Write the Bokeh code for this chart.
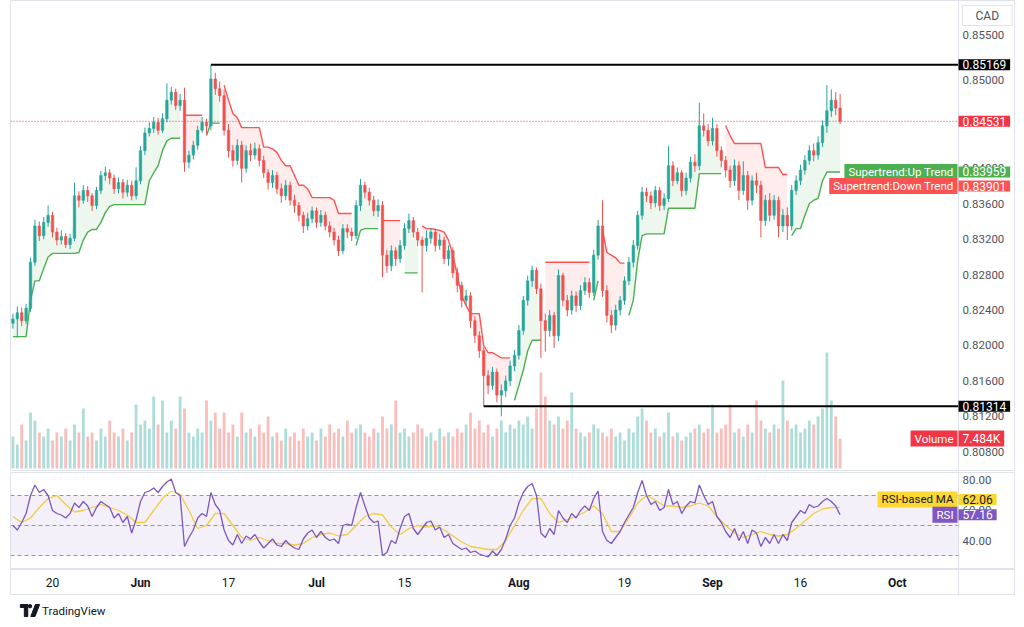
import numpy as np
from bokeh.plotting import figure
from bokeh.layouts import column
from bokeh.models import (Range1d, Span, BoxAnnotation, Label, ColumnDataSource)
from bokeh.core.properties import value
from bokeh.embed import file_html
from bokeh.resources import INLINE

# ---------------- data (USD/CAD, half-day bars) ----------------
first_open = 0.8225
closes = [
    0.8230, 0.8237, 0.8228, 0.8242, 0.8294, 0.8335, 0.8324, 0.8339, 0.8347, 0.8328,
    0.8319, 0.8323, 0.8314, 0.8321, 0.8369, 0.8364, 0.8375, 0.8369, 0.8358, 0.8375,
    0.8392, 0.8395, 0.8389, 0.8377, 0.8384, 0.8373, 0.8381, 0.8369, 0.8386, 0.8420,
    0.8440, 0.8445, 0.8452, 0.8443, 0.8456, 0.8477, 0.8486, 0.8471, 0.8477, 0.8407,
    0.8415, 0.8426, 0.8443, 0.8452, 0.8448, 0.8501, 0.8490, 0.8482, 0.8443, 0.8420,
    0.8409, 0.8426, 0.8400, 0.8420, 0.8415, 0.8422, 0.8409, 0.8395, 0.8384, 0.8392,
    0.8377, 0.8369, 0.8381, 0.8364, 0.8358, 0.8347, 0.8335, 0.8343, 0.8352, 0.8339,
    0.8347, 0.8335, 0.8328, 0.8319, 0.8307, 0.8332, 0.8328, 0.8324, 0.8358, 0.8381,
    0.8373, 0.8364, 0.8352, 0.8358, 0.8302, 0.8290, 0.8307, 0.8298, 0.8313, 0.8332,
    0.8341, 0.8328, 0.8319, 0.8313, 0.8321, 0.8328, 0.8313, 0.8319, 0.8298, 0.8307,
    0.8282, 0.8268, 0.8251, 0.8256, 0.8228, 0.8211, 0.8194, 0.8166, 0.8155, 0.8170,
    0.8144, 0.8149, 0.8160, 0.8177, 0.8189, 0.8217, 0.8251, 0.8273, 0.8285, 0.8264,
    0.8228, 0.8217, 0.8234, 0.8211, 0.8279, 0.8251, 0.8240, 0.8256, 0.8245, 0.8262,
    0.8271, 0.8260, 0.8302, 0.8335, 0.8262, 0.8234, 0.8223, 0.8240, 0.8251, 0.8273,
    0.8294, 0.8313, 0.8347, 0.8373, 0.8369, 0.8361, 0.8375, 0.8358, 0.8366, 0.8403,
    0.8386, 0.8395, 0.8375, 0.8389, 0.8407, 0.8403, 0.8448, 0.8443, 0.8431, 0.8445,
    0.8420, 0.8409, 0.8398, 0.8386, 0.8403, 0.8375, 0.8392, 0.8364, 0.8386, 0.8381,
    0.8341, 0.8364, 0.8347, 0.8364, 0.8335, 0.8347, 0.8335, 0.8375, 0.8386, 0.8398,
    0.8409, 0.8420, 0.8415, 0.8429, 0.8448, 0.8465, 0.8477, 0.8468, 0.84531,
]
highs = [
    0.8236, 0.8244, 0.8243, 0.8247, 0.8299, 0.8342, 0.8340, 0.8345, 0.8358, 0.8351,
    0.8333, 0.8330, 0.8327, 0.8326, 0.8384, 0.8374, 0.8381, 0.8380, 0.8372, 0.8379,
    0.8397, 0.8402, 0.8399, 0.8393, 0.8390, 0.8388, 0.8387, 0.8386, 0.8401, 0.8425,
    0.8446, 0.8452, 0.8458, 0.8457, 0.8462, 0.8496, 0.8492, 0.8490, 0.8484, 0.8491,
    0.8420, 0.8431, 0.8448, 0.8458, 0.8456, 0.85169, 0.8508, 0.8498, 0.8489, 0.8450,
    0.8426, 0.8433, 0.8431, 0.8426, 0.8428, 0.8429, 0.8427, 0.8414, 0.8399, 0.8398,
    0.8396, 0.8383, 0.8387, 0.8385, 0.8370, 0.8362, 0.8351, 0.8350, 0.8357, 0.8356,
    0.8353, 0.8351, 0.8340, 0.8333, 0.8324, 0.8337, 0.8337, 0.8333, 0.8364, 0.8388,
    0.8385, 0.8378, 0.8369, 0.8365, 0.8363, 0.8308, 0.8313, 0.8311, 0.8319, 0.8338,
    0.8349, 0.8345, 0.8333, 0.8323, 0.8330, 0.8333, 0.8332, 0.8326, 0.8323, 0.8313,
    0.8311, 0.8288, 0.8272, 0.8263, 0.8260, 0.8233, 0.8216, 0.8198, 0.8172, 0.8176,
    0.8174, 0.8156, 0.8166, 0.8183, 0.8195, 0.8223, 0.8256, 0.8279, 0.8290, 0.8288,
    0.8270, 0.8236, 0.8240, 0.8238, 0.8286, 0.8282, 0.8257, 0.8262, 0.8261, 0.8268,
    0.8277, 0.8276, 0.8308, 0.8342, 0.8364, 0.8268, 0.8240, 0.8246, 0.8256, 0.8278,
    0.8300, 0.8319, 0.8352, 0.8379, 0.8378, 0.8374, 0.8380, 0.8379, 0.8372, 0.8425,
    0.8408, 0.8401, 0.8398, 0.8395, 0.8413, 0.8416, 0.8474, 0.8462, 0.8450, 0.8457,
    0.8450, 0.8425, 0.8414, 0.8403, 0.8410, 0.8408, 0.8408, 0.8397, 0.8392, 0.8395,
    0.8386, 0.8370, 0.8372, 0.8370, 0.8368, 0.8354, 0.8356, 0.8381, 0.8392, 0.8404,
    0.8415, 0.8426, 0.8428, 0.8436, 0.8454, 0.8494, 0.8489, 0.8486, 0.8484,
]
lows = [
    0.8219, 0.8209, 0.8222, 0.8224, 0.8238, 0.8290, 0.8318, 0.8320, 0.8334, 0.8322,
    0.8313, 0.8314, 0.8310, 0.8309, 0.8318, 0.8356, 0.8360, 0.8362, 0.8352, 0.8354,
    0.8371, 0.8386, 0.8382, 0.8371, 0.8372, 0.8366, 0.8368, 0.8364, 0.8365, 0.8382,
    0.8415, 0.8436, 0.8440, 0.8438, 0.8440, 0.8452, 0.8472, 0.8466, 0.8465, 0.8396,
    0.8400, 0.8410, 0.8421, 0.8440, 0.8438, 0.8443, 0.8483, 0.8475, 0.8437, 0.8412,
    0.8402, 0.8404, 0.8384, 0.8395, 0.8408, 0.8410, 0.8402, 0.8389, 0.8376, 0.8378,
    0.8371, 0.8361, 0.8364, 0.8358, 0.8350, 0.8340, 0.8327, 0.8330, 0.8338, 0.8333,
    0.8334, 0.8330, 0.8322, 0.8313, 0.8301, 0.8303, 0.8321, 0.8318, 0.8320, 0.8352,
    0.8366, 0.8358, 0.8346, 0.8345, 0.8277, 0.8282, 0.8284, 0.8290, 0.8293, 0.8308,
    0.8327, 0.8322, 0.8312, 0.8260, 0.8306, 0.8315, 0.8306, 0.8308, 0.8292, 0.8290,
    0.8276, 0.8260, 0.8243, 0.8245, 0.8220, 0.8203, 0.8186, 0.81314, 0.8145, 0.8150,
    0.8136, 0.8120, 0.8142, 0.8154, 0.8171, 0.8184, 0.8212, 0.8245, 0.8266, 0.8258,
    0.8186, 0.8193, 0.8210, 0.8197, 0.8205, 0.8244, 0.8233, 0.8235, 0.8238, 0.8240,
    0.8257, 0.8254, 0.8256, 0.8297, 0.8255, 0.8226, 0.8214, 0.8217, 0.8234, 0.8246,
    0.8268, 0.8288, 0.8308, 0.8342, 0.8362, 0.8354, 0.8356, 0.8352, 0.8353, 0.8362,
    0.8380, 0.8382, 0.8368, 0.8370, 0.8384, 0.8396, 0.8398, 0.8436, 0.8425, 0.8426,
    0.8413, 0.8401, 0.8390, 0.8378, 0.8380, 0.8364, 0.8370, 0.8353, 0.8358, 0.8372,
    0.8322, 0.8335, 0.8340, 0.8342, 0.8322, 0.8328, 0.8319, 0.8330, 0.8370, 0.8381,
    0.8393, 0.8404, 0.8408, 0.8410, 0.8424, 0.8440, 0.8458, 0.8460, 0.8450,
]
volumes_k = [
    8, 6, 11, 7, 14, 12, 9, 8, 10, 7,
    9, 8, 10, 7, 11, 9, 15, 8, 9, 7,
    10, 8, 12, 9, 8, 10, 7, 9, 16, 11,
    12, 10, 18, 11, 17, 9, 12, 10, 18, 15,
    9, 8, 10, 9, 17, 12, 14, 10, 14, 9,
    11, 8, 14, 9, 10, 8, 11, 9, 13, 8,
    9, 7, 10, 8, 9, 7, 10, 8, 9, 7,
    10, 8, 11, 9, 10, 8, 12, 9, 10, 11,
    9, 8, 10, 9, 13, 10, 11, 17, 9, 10,
    8, 9, 11, 10, 8, 9, 7, 10, 8, 9,
    8, 10, 9, 11, 14, 10, 12, 9, 11, 8,
    10, 12, 9, 11, 10, 12, 11, 13, 10, 15,
    24, 18, 12, 11, 13, 10, 12, 19, 10, 9,
    8, 9, 11, 10, 9, 8, 10, 8, 9, 7,
    10, 9, 13, 15, 12, 9, 10, 8, 9, 14,
    8, 9, 7, 8, 9, 10, 11, 9, 10, 16,
    9, 10, 11, 16, 9, 10, 8, 11, 9, 17,
    12, 10, 9, 11, 10, 22, 12, 10, 11, 9,
    10, 12, 11, 13, 15, 29, 17, 13, 7.484,
]
supertrend = [
    0.8210, 0.8210, 0.8210, 0.8210, 0.8251, 0.8273, 0.8273, 0.8287, 0.8300, 0.8304,
    0.8304, 0.8304, 0.8304, 0.8304, 0.8304, 0.8305, 0.8319, 0.8328, 0.8331, 0.8331,
    0.8339, 0.8350, 0.8357, 0.8359, 0.8359, 0.8359, 0.8359, 0.8359, 0.8359, 0.8359,
    0.8359, 0.8386, 0.8395, 0.8403, 0.8420, 0.8431, 0.8434, 0.8434, 0.8434, 0.8460,
    0.8460, 0.8460, 0.8460, 0.8460, 0.8437, 0.8451, 0.8451, 0.8451, 0.8494, 0.8477,
    0.8462, 0.8457, 0.8446, 0.8446, 0.8446, 0.8446, 0.8446, 0.8424, 0.8424, 0.8422,
    0.8418, 0.8409, 0.8403, 0.8403, 0.8392, 0.8381, 0.8381, 0.8377, 0.8367, 0.8367,
    0.8367, 0.8367, 0.8367, 0.8364, 0.8349, 0.8349, 0.8349, 0.8349, 0.8313, 0.8330,
    0.8332, 0.8332, 0.8332, 0.8332, 0.8341, 0.8341, 0.8341, 0.8341, 0.8341, 0.8282,
    0.8282, 0.8282, 0.8282, 0.8335, 0.8332, 0.8332, 0.8331, 0.8330, 0.8328, 0.8319,
    0.8302, 0.8279, 0.8256, 0.8245, 0.8236, 0.8236, 0.8236, 0.8200, 0.8192, 0.8192,
    0.8189, 0.8186, 0.8186, 0.8186, 0.8138, 0.8155, 0.8172, 0.8194, 0.8206, 0.8206,
    0.8206, 0.8294, 0.8294, 0.8294, 0.8294, 0.8294, 0.8294, 0.8294, 0.8294, 0.8294,
    0.8294, 0.8294, 0.8251, 0.8273, 0.8330, 0.8305, 0.8302, 0.8299, 0.8293, 0.8293,
    0.8234, 0.8251, 0.8296, 0.8324, 0.8326, 0.8326, 0.8326, 0.8326, 0.8326, 0.8355,
    0.8355, 0.8355, 0.8355, 0.8355, 0.8355, 0.8355, 0.8394, 0.8394, 0.8394, 0.8394,
    0.8394, 0.8394, 0.8448, 0.8437, 0.8428, 0.8428, 0.8428, 0.8428, 0.8428, 0.8428,
    0.8428, 0.8401, 0.8401, 0.8401, 0.8401, 0.8393, 0.8393, 0.8324, 0.8332, 0.8332,
    0.8347, 0.8360, 0.8364, 0.8366, 0.8386, 0.83959, 0.83959, 0.83959, 0.83959,
]
trend_runs = [("up", 39), ("down", 5), ("up", 4), ("down", 30), ("up", 6),
              ("down", 5), ("up", 4), ("down", 21), ("up", 7), ("down", 11),
              ("up", 2), ("down", 6), ("up", 22), ("down", 15), ("up", 12)]
supertrend_down_last = 0.83901
rsi = [
    50, 47, 52, 58, 70, 77, 72, 74, 70, 60,
    58, 57, 55, 58, 65, 62, 66, 63, 56, 62,
    66, 64, 62, 55, 58, 52, 56, 45, 54, 66,
    72, 73, 75, 72, 76, 79, 81, 72, 70, 36,
    42, 47, 55, 58, 56, 72, 64, 60, 47, 40,
    37, 44, 38, 43, 41, 44, 39, 35, 38, 41,
    37, 36, 40, 37, 35, 34, 41, 45, 47, 42,
    46, 42, 40, 41, 38, 50, 51, 50, 62, 72,
    63, 55, 52, 53, 30, 32, 40, 38, 48, 56,
    58, 48, 44, 48, 52, 53, 47, 49, 42, 44,
    38, 36, 34, 35, 32, 33, 31, 30, 29, 33,
    30, 34, 41, 50, 55, 65, 72, 76, 78, 70,
    45, 42, 48, 44, 60, 55, 52, 58, 55, 60,
    63, 60, 68, 73, 46, 40, 38, 42, 46, 52,
    57, 62, 72, 80, 70, 64, 66, 60, 62, 74,
    64, 66, 58, 63, 66, 65, 77, 70, 64, 66,
    56, 52, 46, 42, 48, 40, 46, 38, 47, 45,
    36, 42, 38, 44, 38, 44, 40, 52, 56, 60,
    58, 64, 62, 63, 66, 68, 66, 63, 57.16,
]
rsi_ma = [  # one value per trading day (every second bar)
    56, 52, 55, 62, 68, 70, 64, 59, 60, 62,
    64, 62, 60, 57, 52, 52, 60, 68, 73, 71,
    60, 48, 50, 58, 58, 50, 42, 40, 42, 40,
    38, 38, 37, 38, 42, 44, 45, 43, 44, 50,
    56, 58, 57, 49, 44, 48, 50, 49, 50, 47,
    43, 39, 36, 35, 34, 34, 40, 50, 60, 68,
    68, 58, 52, 54, 56, 59, 63, 58, 46, 46,
    55, 65, 70, 67, 63, 63, 62, 63, 65, 63,
    56, 50, 45, 42, 44, 46, 44, 43, 44, 48,
    53, 58, 61, 62, 62.06,
]
resistance_level = 0.85169
resistance_from_bar = 45
support_level = 0.81314
support_from_bar = 107
price_ticks = [0.808, 0.812, 0.816, 0.820, 0.824, 0.828, 0.832, 0.836, 0.840, 0.850, 0.855]
rsi_ticks = [40, 60, 80]
rsi_levels = [70, 50, 30]
time_tick_days = [0, 10, 20, 30, 40, 53, 65, 75, 85, 96]   # trading days after 20 May
time_tick_labels = ["20", "Jun", "17", "Jul", "15", "Aug", "19", "Sep", "16", "Oct"]
first_bar_day = -4.5
bars_per_day = 2

# ---------------- styling ----------------
FONT = "Roboto"
UP = "#26a69a"
DOWN = "#ef5350"
ST_UP = "#4caf50"
ST_DOWN = "#ff5252"
AXIS_TXT = "#50535e"
BORDER = "#e0e3eb"
W = 1016

n = len(closes)
xs = first_bar_day + np.arange(n) / bars_per_day
opens = [first_open] + closes[:-1]
o = np.array(opens)
c = np.array(closes)
is_up = c >= o
cols = [UP if u else DOWN for u in is_up]

# the frame spans the chart and the price-scale column; scale column starts at AX
x_rng = Range1d(-4.773, 109.318)
AX = 102.955


def base_fig(height, y_range, top=0, bottom=0):
    f = figure(width=W, height=height, x_range=x_rng, y_range=y_range,
               output_backend="svg", toolbar_location=None,
               x_axis_location=None, y_axis_location=None,
               min_border_left=10, min_border_right=2,
               min_border_top=top, min_border_bottom=bottom,
               background_fill_color="white", border_fill_color="white",
               outline_line_color=BORDER)
    f.grid.visible = False
    f.add_layout(Span(location=AX, dimension="height", line_color=BORDER, line_width=1))
    return f


def scale_labels(fig, ticks, fmt):
    fig.text(x=[AX] * len(ticks), y=ticks, text=[fmt % t for t in ticks],
             x_offset=4, text_font=value(FONT), text_font_size="11.5px",
             text_color=AXIS_TXT, text_align="left", text_baseline="middle")


def tag(fig, y, text, bg, fg="white", align="left", y_off=0, rng="default", size="12px"):
    # padding is (horizontal, vertical)
    fig.add_layout(Label(x=AX, y=y, text=text, text_align=align, text_baseline="middle",
                         text_font=FONT, text_font_size=size, text_color=fg,
                         background_fill_color=bg, background_fill_alpha=1.0,
                         padding=(4, 1), x_offset=(-1 if align == "right" else 0),
                         y_offset=y_off, y_range_name=rng))


# ---------------- main price pane ----------------
y_main = Range1d(0.805774, 0.85895)
main = base_fig(471, y_main)
main.extra_y_ranges = {"vol": Range1d(-0.75, 117.0)}
scale_labels(main, price_ticks, "%.5f")

# volume
vsrc = ColumnDataSource(dict(x=xs, top=volumes_k, color=cols))
main.vbar(x="x", top="top", bottom=0, width=0.32, source=vsrc, fill_color="color",
          line_color=None, fill_alpha=0.38, y_range_name="vol")

# supertrend fills and lines
st = np.array(supertrend, dtype=float)
mid = (o + c) / 2.0
start = 0
for kind, length in trend_runs:
    sl = slice(start, start + length)
    colr = ST_UP if kind == "up" else ST_DOWN
    main.varea(x=xs[sl], y1=st[sl], y2=mid[sl], fill_color=colr, fill_alpha=0.1)
    main.line(xs[sl], st[sl], line_color=colr, line_width=1.4)
    start += length

# candles
csrc = ColumnDataSource(dict(x=xs, high=highs, low=lows,
                             top=np.maximum(o, c), bottom=np.minimum(o, c), color=cols))
main.segment(x0="x", y0="high", x1="x", y1="low", source=csrc, line_color="color", line_width=1)
main.vbar(x="x", width=0.28, top="top", bottom="bottom", source=csrc,
          fill_color="color", line_color="color", line_width=0.6)

# drawn horizontal levels and last-price line
main.segment(x0=[xs[resistance_from_bar], xs[support_from_bar]],
             y0=[resistance_level, support_level],
             x1=[AX, AX], y1=[resistance_level, support_level],
             line_color="black", line_width=2)
main.segment(x0=[x_rng.start], y0=[closes[-1]], x1=[AX], y1=[closes[-1]],
             line_color="#f23645", line_dash="1 2", line_width=1)

# scale tags
main.add_layout(Label(x=AX, y=y_main.end, text="CAD", text_align="left",
                      text_baseline="top", text_font=FONT, text_font_size="12px",
                      text_color=AXIS_TXT, x_offset=4, y_offset=-5,
                      background_fill_color="white", border_line_color=BORDER,
                      padding=(13, 3)))
tag(main, resistance_level, f"{resistance_level:.5f}", "#000000")
tag(main, support_level, f"{support_level:.5f}", "#000000")
tag(main, closes[-1], f"{closes[-1]:.5f}", "#f23645")
tag(main, supertrend[-1], f"{supertrend[-1]:.5f}", ST_UP)
tag(main, supertrend[-1], "Supertrend:Up Trend", ST_UP, align="right", size="11.5px")
tag(main, supertrend_down_last, f"{supertrend_down_last:.5f}", ST_DOWN, y_off=-9)
tag(main, supertrend_down_last, "Supertrend:Down Trend", ST_DOWN, align="right",
    y_off=-9, size="11.5px")
tag(main, volumes_k[-1], f"{volumes_k[-1]:.3f}K", "#f23645", rng="vol")
tag(main, volumes_k[-1], "Volume", "#f23645", align="right", rng="vol", size="11.5px")

# ---------------- RSI pane ----------------
rp = base_fig(98, Range1d(20.67, 85.33), top=1)
scale_labels(rp, rsi_ticks, "%.2f")
rp.add_layout(BoxAnnotation(bottom=min(rsi_levels), top=max(rsi_levels), right=AX,
                            fill_color="#7e57c2", fill_alpha=0.09, line_color=None))
rp.segment(x0=[x_rng.start] * len(rsi_levels), y0=rsi_levels,
           x1=[AX] * len(rsi_levels), y1=rsi_levels,
           line_color="#9598a1", line_dash="4 3", line_width=1)
rp.line(xs[::2], rsi_ma, line_color="#fdd835", line_width=1.3)
rp.line(xs, rsi, line_color="#7e57c2", line_width=1.3)
tag(rp, rsi_ma[-1], f"{rsi_ma[-1]:.2f}", "#fdd835", fg="#131722", y_off=8)
tag(rp, rsi_ma[-1], "RSI-based MA", "#fdd835", fg="#131722", align="right", y_off=8,
    size="11.5px")
tag(rp, rsi[-1], f"{rsi[-1]:.2f}", "#7e57c2")
tag(rp, rsi[-1], "RSI", "#7e57c2", align="right", size="11.5px")

# ---------------- time axis strip ----------------
tp = base_fig(26, Range1d(0, 1))
tsrc = ColumnDataSource(dict(
    x=time_tick_days, y=[0.5] * len(time_tick_days), text=time_tick_labels,
    style=["bold" if t.isalpha() else "normal" for t in time_tick_labels]))
tp.text(x="x", y="y", text="text", source=tsrc, text_font=value(FONT),
        text_font_size="12px", text_font_style="style", text_color="#131722",
        text_align="center", text_baseline="middle")

# ---------------- footer (TradingView mark) ----------------
fp = figure(width=W, height=24, x_range=Range1d(0, W), y_range=Range1d(0, 24),
            output_backend="svg", toolbar_location=None,
            x_axis_location=None, y_axis_location=None,
            min_border_left=0, min_border_right=0, min_border_top=0, min_border_bottom=0,
            background_fill_color="white", border_fill_color="white", outline_line_color=None)
fp.grid.visible = False
fp.quad(left=[10, 14], right=[17.5, 17.5], bottom=[12, 3], top=[15, 15], color="#131722")
fp.circle(x=[19.8], y=[13.3], radius=1.7, color="#131722")
fp.patch([20.5, 24.8, 29.5, 25.2], [3, 3, 15, 15], color="#131722")
fp.text(x=[32], y=[9], text=["TradingView"], text_font=value(FONT), text_font_size="11.5px",
        text_color="#131722", text_baseline="middle", text_align="left")

layout = column(main, rp, tp, fp, spacing=0)
open("out.html", "w").write(file_html(layout, INLINE))
